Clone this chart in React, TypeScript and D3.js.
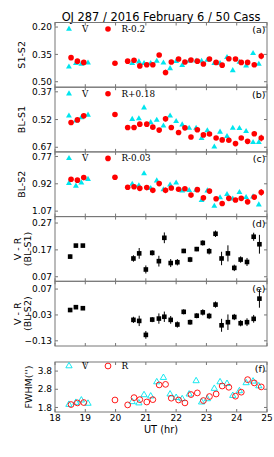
import { useEffect, useRef } from 'react';
import * as d3 from 'd3';

// UT hours of the V and R frames, and of the V-R pairs
const hourTicks = [18, 19, 20, 21, 22, 23, 24, 25];
const tV = [18.46, 18.69, 18.87, 19.09, 20.55, 20.77, 20.94, 21.16, 21.36, 21.58, 21.8, 22.0, 22.2, 22.43, 22.66, 22.84, 23.03, 23.26, 23.45, 23.68, 23.87, 24.09, 24.31, 24.54, 24.73];
const tR = [18.53, 18.74, 18.95, 19.98, 20.4, 20.61, 20.8, 21.03, 21.23, 21.44, 21.65, 21.84, 22.08, 22.29, 22.49, 22.7, 22.9, 23.1, 23.32, 23.52, 23.74, 23.96, 24.15, 24.36, 24.58, 24.81];
const tVR = [18.5, 18.69, 18.92, 20.59, 20.78, 21.0, 21.21, 21.43, 21.61, 21.82, 22.04, 22.25, 22.46, 22.68, 22.88, 23.09, 23.3, 23.5, 23.71, 23.92, 24.13, 24.34, 24.56, 24.75];

// (a) S1-S2
const s1s2V = [0.418, 0.399, 0.403, 0.396, 0.399, 0.39, 0.399, 0.399, 0.387, 0.396, 0.427, 0.388, 0.41, 0.387, 0.385, 0.387, 0.381, 0.399, 0.399, 0.366, 0.438, 0.392, 0.412, 0.344, 0.403];
const s1s2R = [0.368, 0.387, 0.394, 0.399, 0.387, 0.382, 0.413, 0.407, 0.407, 0.353, 0.449, 0.392, 0.375, 0.392, 0.381, 0.387, 0.403, 0.375, 0.394, 0.409, 0.374, 0.375, 0.394, 0.394, 0.407, 0.359];
// (b) BL-S1
const bls1V = [0.5, 0.527, 0.509, 0.495, 0.518, 0.515, 0.456, 0.536, 0.523, 0.554, 0.5, 0.53, 0.548, 0.566, 0.566, 0.622, 0.58, 0.668, 0.587, 0.611, 0.566, 0.568, 0.584, 0.643, 0.643];
const bls1R = [0.536, 0.522, 0.5, 0.493, 0.563, 0.563, 0.545, 0.545, 0.561, 0.577, 0.516, 0.563, 0.59, 0.565, 0.614, 0.575, 0.603, 0.598, 0.62, 0.63, 0.632, 0.65, 0.62, 0.638, 0.597, 0.62];
// (c) BL-S2
const bls2V = [0.917, 0.932, 0.914, 0.895, 0.922, 0.93, 0.864, 0.945, 0.903, 0.952, 0.926, 0.915, 0.959, 0.956, 0.954, 1.011, 0.958, 1.042, 0.996, 0.978, 1.003, 0.967, 0.994, 0.991, 1.035];
const bls2R = [0.895, 0.9, 0.886, 0.884, 0.939, 0.936, 0.945, 0.941, 0.956, 0.919, 0.956, 0.943, 0.95, 0.947, 0.982, 0.952, 0.997, 0.96, 1.002, 1.028, 1.0, 1.009, 1.0, 1.019, 0.993, 0.967];
const rErr = [0.005, 0.005, 0.005, 0.006, 0.005, 0.005, 0.008, 0.01, 0.005, 0.006, 0.015, 0.005, 0.006, 0.005, 0.006, 0.005, 0.006, 0.006, 0.005, 0.007, 0.006, 0.01, 0.006, 0.006, 0.012, 0.018];
// (d), (e) V - R
const vrS1 = [0.145, 0.186, 0.186, 0.138, 0.157, 0.097, 0.159, 0.128, 0.215, 0.121, 0.124, 0.166, 0.134, 0.173, 0.196, 0.165, 0.23, 0.138, 0.157, 0.103, 0.134, 0.125, 0.219, 0.191];
const vrS1Err = [0.008, 0.006, 0.006, 0.012, 0.02, 0.015, 0.01, 0.02, 0.02, 0.015, 0.012, 0.008, 0.01, 0.008, 0.01, 0.012, 0.012, 0.025, 0.03, 0.012, 0.012, 0.015, 0.015, 0.035];
const vrS2 = [-0.011, 0.0, -0.004, -0.049, -0.053, -0.107, -0.048, -0.044, -0.037, -0.049, -0.067, -0.018, -0.058, -0.033, -0.02, -0.034, 0.01, -0.07, -0.058, -0.038, -0.062, -0.058, -0.045, 0.033];
const vrS2Err = [0.008, 0.006, 0.006, 0.012, 0.02, 0.015, 0.01, 0.02, 0.02, 0.015, 0.012, 0.01, 0.01, 0.01, 0.012, 0.012, 0.012, 0.025, 0.03, 0.012, 0.012, 0.015, 0.015, 0.035];
// (f) FWHM
const fwhmV = [1.96, 2.07, 2.2, 2.02, 2.11, 2.04, 2.49, 2.42, 3.2, 3.44, 2.53, 2.34, 2.27, 2.53, 3.26, 2.09, 2.27, 2.84, 3.2, 3.11, 2.45, 2.71, 3.15, 3.24, 2.98];
const fwhmR = [1.96, 2.05, 2.07, 2.21, 1.94, 2.34, 2.23, 2.1, 2.23, 3.04, 3.07, 2.31, 2.21, 2.05, 2.51, 2.6, 2.18, 2.4, 2.54, 2.98, 2.91, 2.42, 2.64, 3.33, 3.15, 2.93];

const CYAN = '#00e5ee';
const RED = '#ff0000';
const FONT = 'DejaVu Sans, sans-serif';
const SERIF = 'DejaVu Serif, serif';

export default function App() {
  const svgRef = useRef<SVGSVGElement>(null);

  useEffect(() => {
    if (!svgRef.current) return;
    const width = 274;
    const height = 457;
    const left = 55;
    const right = 267;
    const ph = 64.7;
    const top0 = 22.5;

    d3.select(svgRef.current).selectAll('*').remove();
    const svg = d3.select(svgRef.current)
      .attr('width', width)
      .attr('height', height);

    const x = d3.scaleLinear().domain([18, 25]).range([left, right]);

    svg.append('text')
      .attr('x', (left + right) / 2)
      .attr('y', 20.5)
      .attr('text-anchor', 'middle')
      .attr('font-family', FONT)
      .attr('font-size', 11.4)
      .text('OJ 287 / 2016 February 6 / 50 Cass');

    const panels = [
      { id: 'a', top: top0, bot: top0 + ph, dom: [0.175, 0.53], inv: true, ticks: [0.2, 0.35, 0.5], fmt: '.2f', label: ['S1-S2'], legend: 'R-0.2', kind: 'mag', v: s1s2V, r: s1s2R },
      { id: 'b', top: top0 + ph, bot: top0 + 2 * ph, dom: [0.345, 0.695], inv: true, ticks: [0.37, 0.52, 0.67], fmt: '.2f', label: ['BL-S1'], legend: 'R+0.18', kind: 'mag', v: bls1V, r: bls1R },
      { id: 'c', top: top0 + 2 * ph, bot: top0 + 3 * ph, dom: [0.745, 1.1], inv: true, ticks: [0.77, 0.92, 1.07], fmt: '.2f', label: ['BL-S2'], legend: 'R-0.03', kind: 'mag', v: bls2V, r: bls2R },
      { id: 'd', top: top0 + 3 * ph, bot: top0 + 4 * ph, dom: [0.053, 0.294], inv: false, ticks: [0.07, 0.17, 0.27], fmt: '.2f', label: ['V - R', '(BL-S1)'], legend: '', kind: 'vr', v: vrS1, r: vrS1Err },
      { id: 'e', top: top0 + 4 * ph, bot: top0 + 5 * ph, dom: [-0.15, 0.1], inv: false, ticks: [-0.13, -0.03, 0.07], fmt: '.2f', label: ['V - R', '(BL-S2)'], legend: '', kind: 'vr', v: vrS2, r: vrS2Err },
      { id: 'f', top: 362, bot: 412, dom: [1.55, 4.3], inv: false, ticks: [1.8, 2.8, 3.8], fmt: '.1f', label: ["FWHM('')"], legend: 'R', kind: 'fwhm', v: fwhmV, r: fwhmR },
    ];

    const tri = d3.symbol().type(d3.symbolTriangle).size(15);
    const triOpen = d3.symbol().type(d3.symbolTriangle).size(17);

    panels.forEach(p => {
      const y = d3.scaleLinear()
        .domain(p.dom)
        .range(p.inv ? [p.top, p.bot] : [p.bot, p.top]);
      const g = svg.append('g');
      const fmt = d3.format(p.fmt);

      // frame
      g.append('rect')
        .attr('x', left).attr('y', p.top)
        .attr('width', right - left).attr('height', p.bot - p.top)
        .attr('fill', 'none').attr('stroke', '#777').attr('stroke-width', 1);

      // x ticks, inward top and bottom
      hourTicks.forEach(h => {
        [[p.bot, -3], [p.top, 3]].forEach(([yy, d]) => {
          g.append('line')
            .attr('x1', x(h)).attr('x2', x(h))
            .attr('y1', yy).attr('y2', yy + d)
            .attr('stroke', '#777');
        });
      });

      // y ticks and labels
      p.ticks.forEach(t => {
        [[left, 3], [right, -3]].forEach(([xx, d]) => {
          g.append('line')
            .attr('x1', xx).attr('x2', xx + d)
            .attr('y1', y(t)).attr('y2', y(t))
            .attr('stroke', '#777');
        });
        g.append('text')
          .attr('x', left - 3)
          .attr('y', y(t))
          .attr('dy', '0.35em')
          .attr('text-anchor', 'end')
          .attr('font-family', FONT)
          .attr('font-size', 9)
          .text(fmt(t).replace('-', '\u2212'));
      });

      // axis label
      const cy = (p.top + p.bot) / 2;
      p.label.forEach((s, i) => {
        const lx = p.label.length === 2 ? 18 + i * 10 : (p.kind === 'fwhm' ? 29 : 22);
        g.append('text')
          .attr('transform', `translate(${lx},${cy}) rotate(-90)`)
          .attr('dy', '0.35em')
          .attr('text-anchor', 'middle')
          .attr('font-family', FONT)
          .attr('font-size', 9.5)
          .text(s);
      });

      // panel letter
      g.append('text')
        .attr('x', 265.5)
        .attr('y', p.top + 7)
        .attr('dy', '0.35em')
        .attr('text-anchor', 'end')
        .attr('font-family', FONT)
        .attr('font-size', 9.5)
        .text(`(${p.id})`);

      if (p.kind === 'mag') {
        g.selectAll('.v').data(p.v).enter().append('path')
          .attr('d', tri)
          .attr('transform', (d, i) => `translate(${x(tV[i])},${y(d)})`)
          .attr('fill', CYAN);
        g.selectAll('.re').data(p.r).enter().append('line')
          .attr('x1', (d, i) => x(tR[i])).attr('x2', (d, i) => x(tR[i]))
          .attr('y1', (d, i) => y(d - rErr[i])).attr('y2', (d, i) => y(d + rErr[i]))
          .attr('stroke', RED).attr('stroke-width', 1);
        g.selectAll('.r').data(p.r).enter().append('circle')
          .attr('cx', (d, i) => x(tR[i]))
          .attr('cy', d => y(d))
          .attr('r', 2.8)
          .attr('fill', RED);
      } else if (p.kind === 'vr') {
        g.selectAll('.e').data(p.v).enter().append('line')
          .attr('x1', (d, i) => x(tVR[i])).attr('x2', (d, i) => x(tVR[i]))
          .attr('y1', (d, i) => y(d - p.r[i])).attr('y2', (d, i) => y(d + p.r[i]))
          .attr('stroke', '#000').attr('stroke-width', 1);
        g.selectAll('.s').data(p.v).enter().append('rect')
          .attr('x', (d, i) => x(tVR[i]) - 2.3)
          .attr('y', d => y(d) - 2.3)
          .attr('width', 4.6).attr('height', 4.6)
          .attr('fill', '#000');
      } else {
        g.selectAll('.v').data(p.v).enter().append('path')
          .attr('d', triOpen)
          .attr('transform', (d, i) => `translate(${x(tV[i])},${y(d)})`)
          .attr('fill', 'none').attr('stroke', CYAN).attr('stroke-width', 0.9);
        g.selectAll('.r').data(p.r).enter().append('circle')
          .attr('cx', (d, i) => x(tR[i]))
          .attr('cy', d => y(d))
          .attr('r', 2.9)
          .attr('fill', 'none').attr('stroke', RED).attr('stroke-width', 0.9);
      }

      // legend
      if (p.legend) {
        const ly = p.top + (p.kind === 'fwhm' ? 4 : 6.5);
        const open = p.kind === 'fwhm';
        g.append('path')
          .attr('d', open ? triOpen : tri)
          .attr('transform', `translate(69,${ly})`)
          .attr('fill', open ? 'none' : CYAN)
          .attr('stroke', open ? CYAN : 'none')
          .attr('stroke-width', 0.9);
        g.append('text')
          .attr('x', 82).attr('y', ly).attr('dy', '0.35em')
          .attr('font-family', SERIF)
          .attr('font-size', 8.8)
          .text('V');
        g.append('circle')
          .attr('cx', 108).attr('cy', ly).attr('r', open ? 2.9 : 2.8)
          .attr('fill', open ? 'none' : RED)
          .attr('stroke', open ? RED : 'none')
          .attr('stroke-width', 0.9);
        g.append('text')
          .attr('x', 121.5).attr('y', ly).attr('dy', '0.35em')
          .attr('font-family', SERIF)
          .attr('font-size', 8.8)
          .text(p.legend);
      }
    });

    // x tick labels and axis title
    hourTicks.forEach(h => {
      svg.append('text')
        .attr('x', x(h)).attr('y', 420.5)
        .attr('text-anchor', 'middle')
        .attr('font-family', FONT)
        .attr('font-size', 9)
        .text(String(h));
    });
    svg.append('text')
      .attr('x', (left + right) / 2).attr('y', 433)
      .attr('text-anchor', 'middle')
      .attr('font-family', FONT)
      .attr('font-size', 9.8)
      .text('UT (hr)');
  }, []);

  return <svg ref={svgRef} style={{ position: 'absolute', left: 0, top: 0 }}></svg>;
}
